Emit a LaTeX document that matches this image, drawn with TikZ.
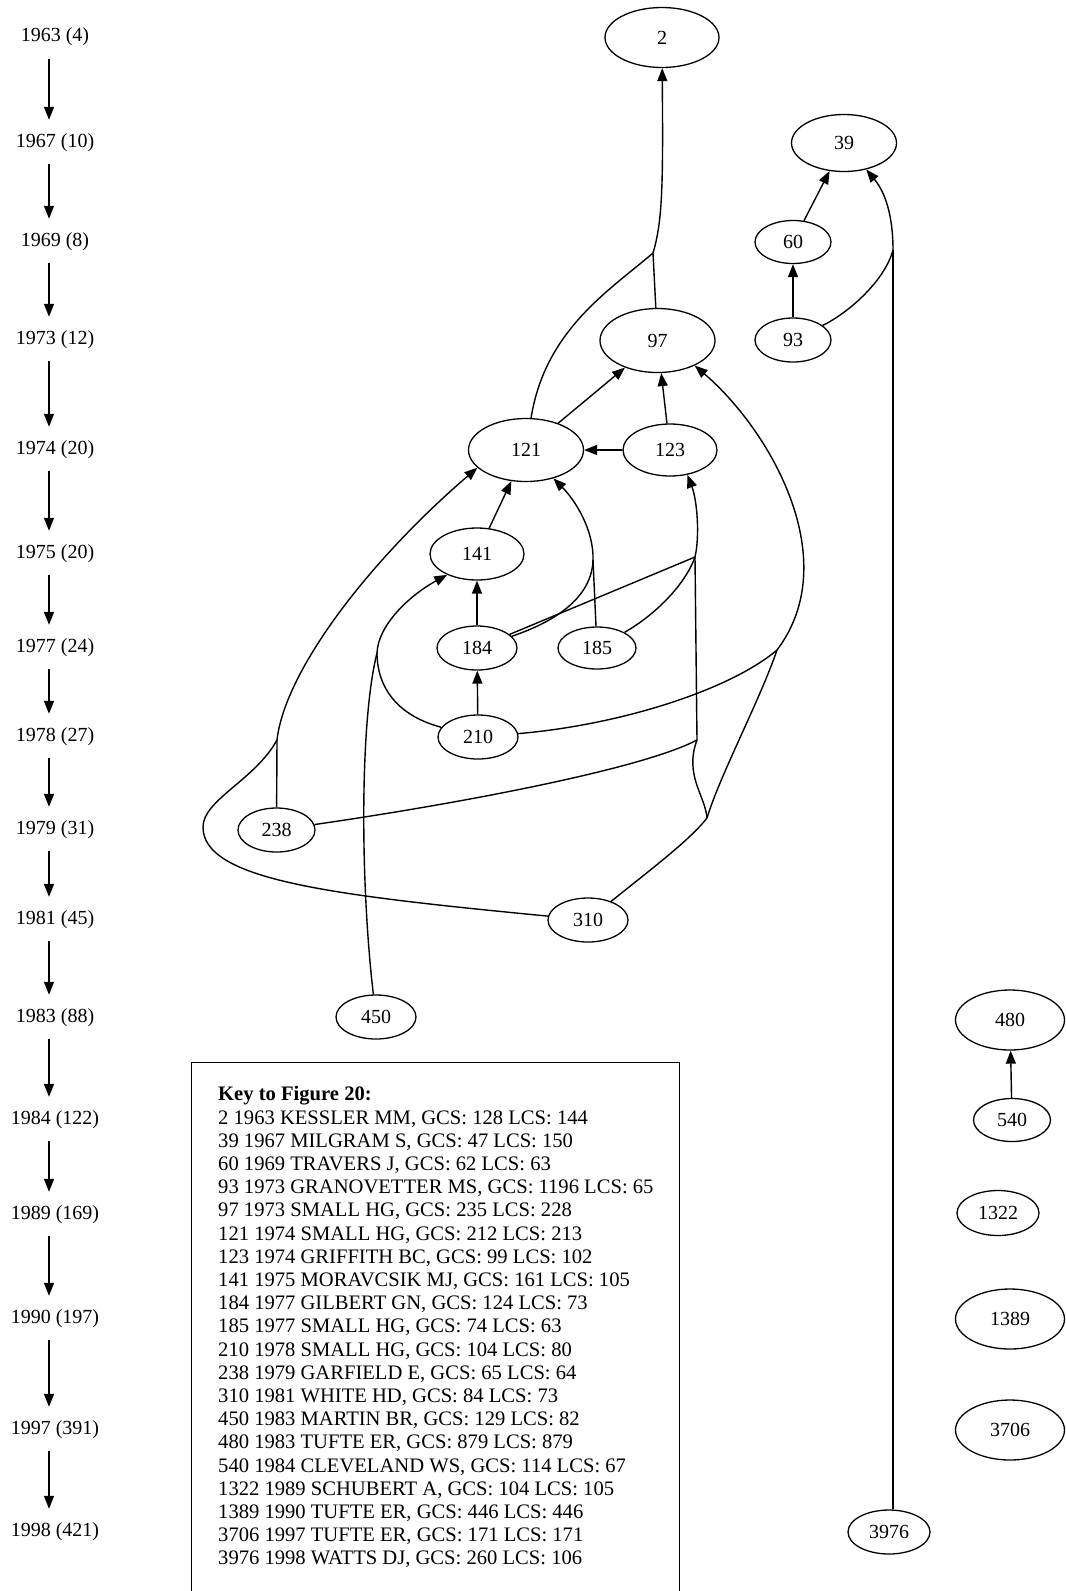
\documentclass[tikz,border=0pt]{standalone}
\usepackage{fontspec}
\setmainfont{Liberation Serif}
\usetikzlibrary{shapes.geometric,arrows.meta}
\tikzset{
	cite/.style={draw, ellipse, inner sep=0pt, line width=1.3pt},
	yearlab/.style={inner sep=0pt, text height=14pt, text depth=4pt, minimum height=44pt, anchor=base},
	keyline/.style={inner sep=0pt, anchor=base west, font=\fontsize{20.6}{23.2}\selectfont},
	link/.style={line width=1.4pt},
}
\begin{document}
\begin{tikzpicture}[x=1pt,y=-1pt,>={Triangle[length=13pt,width=10pt]},font=\fontsize{20}{23.2}\selectfont]
	  \fill[white] (0,0) rectangle (1066,1591);
	  \useasboundingbox (0,0) rectangle (1066,1591);
	  % years (number of papers)
	  \node[yearlab] (y1963) at (55,41.5) {1963 (4)};
	  \node[yearlab] (y1967) at (55,147) {1967 (10)};
	  \node[yearlab] (y1969) at (55,246) {1969 (8)};
	  \node[yearlab] (y1973) at (55,344) {1973 (12)};
	  \node[yearlab] (y1974) at (55,454) {1974 (20)};
	  \node[yearlab] (y1975) at (55,558) {1975 (20)};
	  \node[yearlab] (y1977) at (55,652) {1977 (24)};
	  \node[yearlab] (y1978) at (55,741) {1978 (27)};
	  \node[yearlab] (y1979) at (55,834) {1979 (31)};
	  \node[yearlab] (y1981) at (55,924) {1981 (45)};
	  \node[yearlab] (y1983) at (55,1022) {1983 (88)};
	  \node[yearlab] (y1984) at (55,1124) {1984 (122)};
	  \node[yearlab] (y1989) at (55,1219) {1989 (169)};
	  \node[yearlab] (y1990) at (55,1323) {1990 (197)};
	  \node[yearlab] (y1997) at (55,1434) {1997 (391)};
	  \node[yearlab] (y1998) at (55,1536) {1998 (421)};
	  \draw[link,->] ([xshift=-6pt]y1963.south) -- ([xshift=-6pt]y1967.north);
	  \draw[link,->] ([xshift=-6pt]y1967.south) -- ([xshift=-6pt]y1969.north);
	  \draw[link,->] ([xshift=-6pt]y1969.south) -- ([xshift=-6pt]y1973.north);
	  \draw[link,->] ([xshift=-6pt]y1973.south) -- ([xshift=-6pt]y1974.north);
	  \draw[link,->] ([xshift=-6pt]y1974.south) -- ([xshift=-6pt]y1975.north);
	  \draw[link,->] ([xshift=-6pt]y1975.south) -- ([xshift=-6pt]y1977.north);
	  \draw[link,->] ([xshift=-6pt]y1977.south) -- ([xshift=-6pt]y1978.north);
	  \draw[link,->] ([xshift=-6pt]y1978.south) -- ([xshift=-6pt]y1979.north);
	  \draw[link,->] ([xshift=-6pt]y1979.south) -- ([xshift=-6pt]y1981.north);
	  \draw[link,->] ([xshift=-6pt]y1981.south) -- ([xshift=-6pt]y1983.north);
	  \draw[link,->] ([xshift=-6pt]y1983.south) -- ([xshift=-6pt]y1984.north);
	  \draw[link,->] ([xshift=-6pt]y1984.south) -- ([xshift=-6pt]y1989.north);
	  \draw[link,->] ([xshift=-6pt]y1989.south) -- ([xshift=-6pt]y1990.north);
	  \draw[link,->] ([xshift=-6pt]y1990.south) -- ([xshift=-6pt]y1997.north);
	  \draw[link,->] ([xshift=-6pt]y1997.south) -- ([xshift=-6pt]y1998.north);
	  % papers
	  \node[cite, minimum width=114pt, minimum height=60pt] (n2) at (662,37.5) {2};
	  \node[cite, minimum width=105pt, minimum height=57pt] (n39) at (844,143) {39};
	  \node[cite, minimum width=76pt, minimum height=43pt] (n60) at (793,242) {60};
	  \node[cite, minimum width=76pt, minimum height=44pt] (n93) at (793,340) {93};
	  \node[cite, minimum width=115pt, minimum height=64pt] (n97) at (657.5,340.5) {97};
	  \node[cite, minimum width=115pt, minimum height=63pt] (n121) at (526,450) {121};
	  \node[cite, minimum width=94pt, minimum height=52pt] (n123) at (670,450) {123};
	  \node[cite, minimum width=94pt, minimum height=52pt] (n141) at (477,554) {141};
	  \node[cite, minimum width=80pt, minimum height=44pt] (n184) at (477,648) {184};
	  \node[cite, minimum width=78pt, minimum height=42pt] (n185) at (597,648) {185};
	  \node[cite, minimum width=80pt, minimum height=44pt] (n210) at (478,737) {210};
	  \node[cite, minimum width=77pt, minimum height=44pt] (n238) at (276.5,830) {238};
	  \node[cite, minimum width=80pt, minimum height=44pt] (n310) at (588,920) {310};
	  \node[cite, minimum width=80pt, minimum height=44pt] (n450) at (376,1017) {450};
	  \node[cite, minimum width=109pt, minimum height=60pt] (n480) at (1010,1020) {480};
	  \node[cite, minimum width=77pt, minimum height=43pt] (n540) at (1012,1120) {540};
	  \node[cite, minimum width=82pt, minimum height=45pt] (n1322) at (998,1213) {1322};
	  \node[cite, minimum width=109pt, minimum height=60pt] (n1389) at (1010,1319) {1389};
	  \node[cite, minimum width=109pt, minimum height=60pt] (n3706) at (1010,1430) {3706};
	  \node[cite, minimum width=82pt, minimum height=44pt] (n3976) at (889,1532) {3976};
	  % junctions where edges merge
	  \coordinate (m2) at (653,253);
	  \coordinate (m39) at (893,250);
	  \coordinate (m121a) at (277,740);
	  \coordinate (m121b) at (593,560);
	  \coordinate (m141) at (377,653);
	  \coordinate (m123a) at (695,557);
	  \coordinate (m123b) at (697,740);
	  \coordinate (m310) at (707,818);
	  \coordinate (m97) at (777,650);
	  % straight citations
	  \draw[link,->] (n93) -- (n60);
	  \draw[link,->] (n60) -- (n39);
	  \draw[link,->] (n540) -- (n480);
	  \draw[link,->] (n121) -- (n97);
	  \draw[link,->] (n123) -- (n97);
	  \draw[link,->] (n123) -- (n121);
	  \draw[link,->] (n141) -- (n121);
	  \draw[link,->] (n184) -- (n141);
	  \draw[link,->] (n210) -- (n184);
	  % into 2
	  \draw[link] (n97) -- (m2);
	  \draw[link] (n121) .. controls (545,330) and (610,290) .. (m2);
	  \draw[link,->] (m2) .. controls (663,220) and (663,180) .. (n2);
	  % into 39
	  \draw[link] (n3976.north -| m39) -- (m39);
	  \draw[link] (n93) .. controls (850,312) and (885,280) .. (m39);
	  \draw[link,->] (m39) .. controls (893,215) and (885,192) .. (n39.-50);
	  % into 121, left side
	  \draw[link] (n238) -- (m121a);
	  \draw[link] (n310) .. controls (330,895) and (203,880) .. (203,827) .. controls (203,800) and (255,780) .. (m121a);
	  \draw[link,->] (m121a) .. controls (285,670) and (370,560) .. (n121.200);
	  % into 141
	  \draw[link] (n450) .. controls (360,880) and (360,720) .. (m141);
	  \draw[link] (n210) .. controls (395,715) and (377,685) .. (m141);
	  \draw[link,->] (m141) .. controls (378,625) and (410,595) .. (n141.215);
	  % into 121 from below
	  \draw[link] (n185) -- (m121b);
	  \draw[link] (n184) .. controls (560,620) and (592,595) .. (m121b);
	  \draw[link,->] (m121b) .. controls (594,530) and (575,500) .. (n121.-46);
	  % into 123
	  \draw[link] (n184) -- (m123a);
	  \draw[link] (n185) .. controls (655,615) and (685,585) .. (m123a);
	  \draw[link] (m123b) -- (m123a);
	  \draw[link,->] (m123a) .. controls (700,535) and (697,500) .. (n123.-55);
	  \draw[link] (n238) .. controls (450,805) and (640,770) .. (m123b);
	  \draw[link] (n310) .. controls (650,870) and (690,840) .. (m310);
	  \draw[link] (m310) .. controls (705,795) and (684,775) .. (m123b);
	  % into 97, right side
	  \draw[link] (m310) .. controls (720,775) and (760,700) .. (m97);
	  \draw[link] (n210) .. controls (620,725) and (730,690) .. (m97);
	  \draw[link,->] (m97) .. controls (845,560) and (770,430) .. (n97.-34);
	  % key
	  \draw[line width=1pt] (191,1591) -- (191,1062) -- (679,1062) -- (679,1591);
	  \node[keyline] (k0) at (218,1100.8) {\textbf{Key to Figure 20:}};
	  \node[keyline] (k1) at (218,1124) {2 1963 KESSLER MM, GCS: 128 LCS: 144};
	  \node[keyline] (k2) at (218,1147.2) {39 1967 MILGRAM S, GCS: 47 LCS: 150};
	  \node[keyline] (k3) at (218,1170.4) {60 1969 TRAVERS J, GCS: 62 LCS: 63};
	  \node[keyline] (k4) at (218,1193.6) {93 1973 GRANOVETTER MS, GCS: 1196 LCS: 65};
	  \node[keyline] (k5) at (218,1216.8) {97 1973 SMALL HG, GCS: 235 LCS: 228};
	  \node[keyline] (k6) at (218,1240) {121 1974 SMALL HG, GCS: 212 LCS: 213};
	  \node[keyline] (k7) at (218,1263.2) {123 1974 GRIFFITH BC, GCS: 99 LCS: 102};
	  \node[keyline] (k8) at (218,1286.4) {141 1975 MORAVCSIK MJ, GCS: 161 LCS: 105};
	  \node[keyline] (k9) at (218,1309.6) {184 1977 GILBERT GN, GCS: 124 LCS: 73};
	  \node[keyline] (k10) at (218,1332.8) {185 1977 SMALL HG, GCS: 74 LCS: 63};
	  \node[keyline] (k11) at (218,1356) {210 1978 SMALL HG, GCS: 104 LCS: 80};
	  \node[keyline] (k12) at (218,1379.2) {238 1979 GARFIELD E, GCS: 65 LCS: 64};
	  \node[keyline] (k13) at (218,1402.4) {310 1981 WHITE HD, GCS: 84 LCS: 73};
	  \node[keyline] (k14) at (218,1425.6) {450 1983 MARTIN BR, GCS: 129 LCS: 82};
	  \node[keyline] (k15) at (218,1448.8) {480 1983 TUFTE ER, GCS: 879 LCS: 879};
	  \node[keyline] (k16) at (218,1472) {540 1984 CLEVELAND WS, GCS: 114 LCS: 67};
	  \node[keyline] (k17) at (218,1495.2) {1322 1989 SCHUBERT A, GCS: 104 LCS: 105};
	  \node[keyline] (k18) at (218,1518.4) {1389 1990 TUFTE ER, GCS: 446 LCS: 446};
	  \node[keyline] (k19) at (218,1541.6) {3706 1997 TUFTE ER, GCS: 171 LCS: 171};
	  \node[keyline] (k20) at (218,1564.8) {3976 1998 WATTS DJ, GCS: 260 LCS: 106};
	\end{tikzpicture}
\end{document}
